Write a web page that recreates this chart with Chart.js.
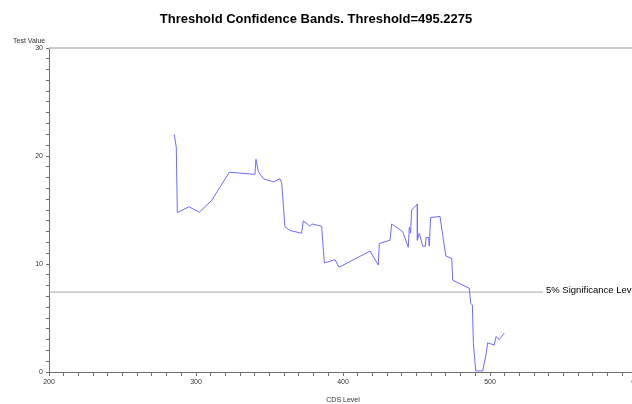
<!DOCTYPE html>
<html>
<head>
<meta charset="utf-8">
<script src="https://cdn.jsdelivr.net/npm/chart.js@4"></script>
<style>
  html, body { margin: 0; padding: 0; background: #fff; overflow: hidden; }
  #wrap { width: 680px; height: 404px; }
</style>
</head>
<body>
<div id="wrap"><canvas id="chart" width="680" height="404"></canvas></div>
<script>
// CDS level (x) and test value (y)
const cdsLevel = [285.2, 286.6, 287.3, 295.2, 302.3, 310.7, 322.7, 340.1, 340.8, 342.4,
  345.8, 352.6, 357.1, 358.3, 360.5, 363.9, 371.8, 373.0, 377.6, 379.1,
  385.5, 387.3, 394.6, 397.3, 418.4, 424.0, 424.7, 432.0, 433.1, 440.6,
  444.4, 445.1, 446.0, 446.7, 450.6, 450.6, 451.9, 454.2, 456.0, 456.5,
  458.3, 458.7, 459.6, 466.0, 469.9, 474.0, 474.6, 485.9, 486.9, 488.0,
  488.7, 490.3, 495.0, 497.3, 498.4, 502.9, 504.1, 506.3, 509.7];
const testValue = [22.0, 20.8, 14.75, 15.3, 14.8, 15.9, 18.5, 18.3, 19.7, 18.55,
  17.9, 17.6, 17.9, 17.5, 13.45, 13.1, 12.85, 14.0, 13.5, 13.7,
  13.5, 10.1, 10.4, 9.7, 11.2, 9.9, 11.9, 12.2, 13.7, 13.0,
  11.55, 13.4, 12.85, 15.0, 15.55, 12.2, 12.85, 11.65, 11.65, 12.45,
  12.45, 11.65, 14.3, 14.4, 10.75, 10.5, 8.5, 7.75, 6.35, 6.2,
  2.65, 0.1, 0.1, 1.6, 2.7, 2.5, 3.27, 3.0, 3.6];

const sigLevel = 7.4;
const sigRange = [200, 536];
const xTicks = [200, 300, 400, 500, 600];
const yTicks = [0, 10, 20, 30];

const chartTitle = 'Threshold Confidence Bands. Threshold=495.2275';
const sigLabel = '5% Significance Level';

const smallFont = { family: 'Arial, "Liberation Sans", sans-serif', size: 7 };

// titles and labels drawn on the canvas
const decorations = {
  id: 'decorations',
  afterDraw(chart) {
    const ctx = chart.ctx;
    const area = chart.chartArea;
    const y = chart.scales.y;
    ctx.save();
    // top frame line
    ctx.strokeStyle = '#c8c8c8';
    ctx.lineWidth = 2;
    ctx.beginPath();
    ctx.moveTo(area.left, area.top);
    ctx.lineTo(area.right, area.top);
    ctx.stroke();

    ctx.fillStyle = '#000';
    ctx.textAlign = 'center';
    ctx.textBaseline = 'middle';
    ctx.font = 'bold 13px Arial, "Liberation Sans", sans-serif';
    ctx.fillText(chartTitle, 316, 19);

    ctx.fillStyle = '#333';
    ctx.font = '7px Arial, "Liberation Sans", sans-serif';
    ctx.textAlign = 'left';
    ctx.fillText('Test Value', 13, 41);

    ctx.fillStyle = '#000';
    ctx.font = '9.5px Arial, "Liberation Sans", sans-serif';
    ctx.fillText(sigLabel, 546, y.getPixelForValue(sigLevel) - 2);
    ctx.restore();
  }
};

new Chart(document.getElementById('chart'), {
  type: 'line',
  data: {
    datasets: [
      {
        data: cdsLevel.map((x, i) => ({ x: x, y: testValue[i] })),
        borderColor: '#6b6bff',
        borderWidth: 1,
        pointRadius: 0,
        tension: 0
      },
      {
        data: sigRange.map(x => ({ x: x, y: sigLevel })),
        borderColor: '#a8a8a8',
        borderWidth: 1,
        pointRadius: 0
      }
    ]
  },
  options: {
    responsive: false,
    animation: false,
    layout: { padding: { top: 48, right: 43, left: 0, bottom: 0 } },
    plugins: {
      legend: { display: false },
      tooltip: { enabled: false },
      title: { display: false }
    },
    scales: {
      x: {
        type: 'linear',
        min: 200,
        max: 600,
        afterFit(scale) { scale.height = 32; },
        border: { color: '#707070', width: 1 },
        grid: { drawOnChartArea: false, drawTicks: true, tickLength: 4, color: '#707070' },
        ticks: {
          stepSize: 10,
          autoSkip: false,
          maxRotation: 0,
          padding: 2,
          color: '#333',
          font: smallFont,
          callback: v => (xTicks.includes(v) ? String(v) : '')
        },
        title: { display: true, text: 'CDS Level', color: '#333', font: smallFont, padding: { top: 4, bottom: 0 } }
      },
      y: {
        min: 0,
        max: 30,
        afterFit(scale) { scale.width = 49; },
        border: { color: '#707070', width: 1 },
        grid: { drawOnChartArea: false, drawTicks: true, tickLength: 3, color: '#707070' },
        ticks: {
          stepSize: 1,
          autoSkip: false,
          padding: 3,
          color: '#333',
          font: smallFont,
          callback: v => (yTicks.includes(v) ? String(v) : '')
        }
      }
    }
  },
  plugins: [decorations]
});
</script>
</body>
</html>
